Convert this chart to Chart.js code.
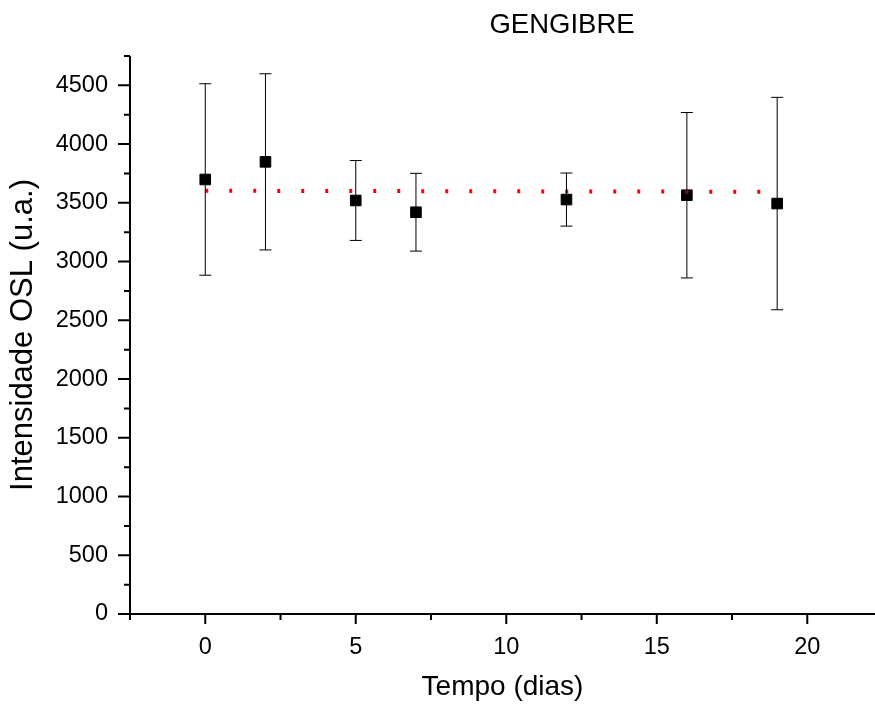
<!DOCTYPE html>
<html>
<head>
<meta charset="utf-8">
<script src="https://cdn.jsdelivr.net/npm/chart.js@4"></script>
<style>
  html, body { margin: 0; padding: 0; background: #fff; }
</style>
</head>
<body>
<canvas id="oslChart" width="875" height="708"></canvas>
<script>
// --- Data ---
const days = [0, 2, 5, 7, 12, 16, 19];
const oslValues = [3699, 3849, 3520, 3420, 3528, 3565, 3494];
const oslErrors = [815, 750, 340, 331, 226, 704, 904];
const fitDays = [0, 18.5];
const fitValues = [3603, 3594];
const xTickValues = [0, 5, 10, 15, 20];
const yTickValues = [0, 500, 1000, 1500, 2000, 2500, 3000, 3500, 4000, 4500];

const FONT = '"Liberation Sans", Arial, sans-serif';

// --- Plugins ---
// barras de erro desenhadas com as escalas do gráfico
const errorBars = {
  id: 'errorBars',
  afterDatasetsDraw(chart) {
    const { ctx, scales: { x, y } } = chart;
    ctx.save();
    ctx.strokeStyle = '#000';
    ctx.lineWidth = 1;
    days.forEach((d, i) => {
      const px = x.getPixelForValue(d);
      const top = y.getPixelForValue(oslValues[i] + oslErrors[i]);
      const bot = y.getPixelForValue(oslValues[i] - oslErrors[i]);
      ctx.beginPath();
      ctx.moveTo(px, top); ctx.lineTo(px, bot);
      ctx.moveTo(px - 6, top); ctx.lineTo(px + 6, top);
      ctx.moveTo(px - 6, bot); ctx.lineTo(px + 6, bot);
      ctx.stroke();
    });
    ctx.restore();
  }
};

// eixos estilo Origin: só esquerda e baixo, com ticks menores
const originAxes = {
  id: 'originAxes',
  afterDraw(chart) {
    const { ctx, chartArea: a, scales: { x, y } } = chart;
    ctx.save();
    ctx.strokeStyle = '#000';
    ctx.lineWidth = 2;
    ctx.beginPath();
    ctx.moveTo(a.left, a.top); ctx.lineTo(a.left, a.bottom);
    ctx.moveTo(a.left - 1, a.bottom); ctx.lineTo(a.right, a.bottom);
    ctx.stroke();

    ctx.beginPath();
    for (let v = x.min; v <= x.max + 1e-9; v += 2.5) {
      const px = x.getPixelForValue(v);
      const major = Math.abs(v % 5) < 1e-9;
      ctx.moveTo(px, a.bottom); ctx.lineTo(px, a.bottom + (major ? 10 : 6));
    }
    for (let v = 0; v <= y.max + 1e-9; v += 250) {
      const py = y.getPixelForValue(v);
      const major = v % 500 === 0;
      ctx.moveTo(a.left, py); ctx.lineTo(a.left - (major ? 12 : 6), py);
    }
    ctx.stroke();

    ctx.fillStyle = '#000';
    ctx.font = `27.5px ${FONT}`;
    ctx.textAlign = 'center';
    ctx.textBaseline = 'middle';
    ctx.fillText('GENGIBRE', 562, 25);
    ctx.restore();
  }
};

// --- Chart ---
new Chart(document.getElementById('oslChart'), {
  type: 'scatter',
  data: {
    datasets: [
      {
        label: 'ajuste',
        data: fitDays.map((d, i) => ({ x: d, y: fitValues[i] })),
        showLine: true,
        borderColor: '#ff0000',
        borderWidth: 4,
        borderDash: [3, 21],
        pointRadius: 0
      },
      {
        label: 'OSL',
        data: days.map((d, i) => ({ x: d, y: oslValues[i] })),
        pointStyle: 'rect',
        pointRadius: 7.5,
        backgroundColor: '#000',
        borderColor: '#000',
        borderWidth: 1
      }
    ]
  },
  plugins: [errorBars, originAxes],
  options: {
    responsive: false,
    animation: false,
    layout: { autoPadding: false, padding: { top: 56, left: 0, right: 0, bottom: 0 } },
    plugins: { legend: { display: false }, tooltip: { enabled: false } },
    scales: {
      x: {
        type: 'linear', min: -2.5, max: 22.25,
        grid: { display: false, drawTicks: false },
        border: { display: false },
        afterBuildTicks: s => { s.ticks = xTickValues.map(v => ({ value: v })); },
        afterFit: s => { s.height = 94; },
        ticks: { autoSkip: false, maxRotation: 0, padding: 19, color: '#000', font: { family: FONT, size: 23.5 }, callback: v => String(v) },
        title: { display: true, text: 'Tempo (dias)', color: '#000', padding: { top: 0, bottom: 4 }, font: { family: FONT, size: 28 } }
      },
      y: {
        type: 'linear', min: 0, max: 4750,
        grid: { display: false, drawTicks: false },
        border: { display: false },
        afterBuildTicks: s => { s.ticks = yTickValues.map(v => ({ value: v })); },
        afterFit: s => { s.width = 130; },
        ticks: { autoSkip: false, padding: 22, color: '#000', font: { family: FONT, size: 23.5 }, callback: v => String(v) },
        title: { display: true, text: 'Intensidade OSL (u.a.)', color: '#000', padding: { top: 5, bottom: 0 }, font: { family: FONT, size: 31 } }
      }
    }
  }
});
</script>
</body>
</html>
